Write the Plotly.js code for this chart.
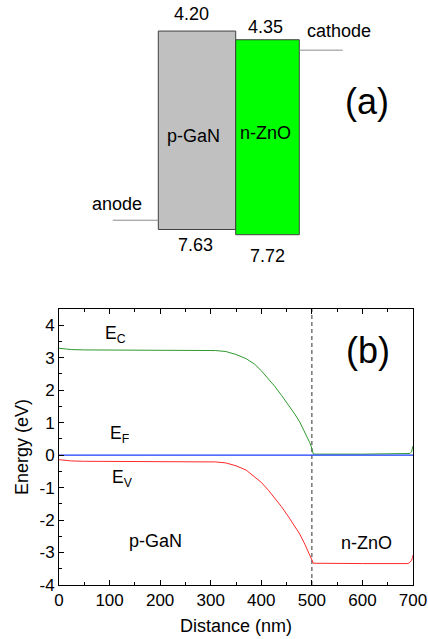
<!DOCTYPE html>
<html>
<head>
<meta charset="utf-8">
<script src="https://cdn.plot.ly/plotly-3.0.1.min.js"></script>
<style>html,body{margin:0;padding:0;background:#fff;}#chart{width:428px;height:639px;}</style>
</head>
<body>
<div id="chart"></div>
<script>
// ---------- Panel (a): band alignment ----------
const materials = ['p-GaN', 'n-ZnO'];
const bandTop = [4.20, 4.35];      // eV (below vacuum)
const bandBottom = [7.63, 7.72];   // eV
const electrodeNames = ['anode', 'cathode'];
const electrodeLevels = [7.47, 4.53];

// ---------- Panel (b): band diagram ----------
const ecDistance = [0, 10, 25, 50, 150, 250, 310, 330, 350, 370, 387, 400, 414, 427, 440, 453, 466, 476, 486, 491, 496, 499, 501, 503, 600, 690, 694, 697, 699, 700];
const ecEnergy   = [3.29, 3.27, 3.25, 3.24, 3.23, 3.23, 3.22, 3.19, 3.10, 2.97, 2.80, 2.60, 2.36, 2.11, 1.84, 1.56, 1.27, 1.02, 0.72, 0.56, 0.38, 0.25, 0.10, 0.03, 0.03, 0.03, 0.05, 0.10, 0.18, 0.28];
const evDistance = [0, 10, 25, 50, 150, 250, 310, 330, 350, 370, 387, 400, 414, 427, 440, 453, 466, 476, 486, 491, 496, 499, 501, 503, 600, 690, 694, 697, 699, 700];
const evEnergy   = [-0.14, -0.16, -0.18, -0.19, -0.20, -0.20, -0.21, -0.24, -0.33, -0.46, -0.66, -0.84, -1.08, -1.33, -1.59, -1.88, -2.17, -2.43, -2.74, -2.91, -3.09, -3.22, -3.30, -3.33, -3.34, -3.34, -3.30, -3.24, -3.16, -3.08];
const efDistance = [0, 700];
const efEnergy   = [0, 0];
const interfaceDistance = 500;
const yTickValues = [-4, -3, -2, -1, 0, 1, 2, 3, 4];
const xTickValues = [0, 100, 200, 300, 400, 500, 600, 700];

const FONT = 'Liberation Sans, Arial, sans-serif';

// layout geometry for panel (a)
const barWidths = [77.4, 63.6];
const barX = [-barWidths[0] / 2, barWidths[1] / 2];

const traces = [];
traces.push({
  type: 'bar', xaxis: 'x2', yaxis: 'y2',
  x: barX, width: barWidths,
  base: bandTop,
  y: bandBottom.map((b, i) => b - bandTop[i]),
  marker: {color: ['#c0c0c0', '#00ff00'], line: {color: '#404040', width: 1}},
  hoverinfo: 'skip', showlegend: false
});
// electrode lines
const anodeX = [barX[0] - barWidths[0] / 2 - 45.6, barX[0] - barWidths[0] / 2];
const cathodeX = [barX[1] + barWidths[1] / 2, barX[1] + barWidths[1] / 2 + 43.4];
traces.push({type: 'scatter', mode: 'lines', xaxis: 'x2', yaxis: 'y2', x: anodeX, y: [electrodeLevels[0], electrodeLevels[0]], line: {color: '#8c8c8c', width: 1}, showlegend: false, hoverinfo: 'skip'});
traces.push({type: 'scatter', mode: 'lines', xaxis: 'x2', yaxis: 'y2', x: cathodeX, y: [electrodeLevels[1], electrodeLevels[1]], line: {color: '#8c8c8c', width: 1}, showlegend: false, hoverinfo: 'skip'});

// panel (b)
traces.push({type: 'scatter', mode: 'lines', x: [interfaceDistance, interfaceDistance], y: [-4, 4.5], line: {color: '#606060', width: 1.3, dash: '4px,3px'}, showlegend: false, hoverinfo: 'skip'});
traces.push({type: 'scatter', mode: 'lines', x: ecDistance, y: ecEnergy, line: {color: '#2e9a2e', width: 1}, showlegend: false});
traces.push({type: 'scatter', mode: 'lines', x: evDistance, y: evEnergy, line: {color: '#ff2a2a', width: 1}, showlegend: false});
traces.push({type: 'scatter', mode: 'lines', x: efDistance, y: efEnergy, line: {color: '#1a3cff', width: 1.2}, showlegend: false});

const annA = (text, x, y, size, xanchor) => ({text, x, y, xref: 'x2', yref: 'y2', showarrow: false, xanchor: xanchor || 'center', yanchor: 'middle', font: {family: FONT, size: size || 18, color: '#000'}});
const annB = (text, x, y, size, xanchor) => ({text, x, y, xref: 'x', yref: 'y', showarrow: false, xanchor: xanchor || 'center', yanchor: 'middle', font: {family: FONT, size: size || 18, color: '#000'}});

const annotations = [
  annA(bandTop[0].toFixed(2), -44.7, 3.90),
  annA(bandTop[1].toFixed(2), 29.3, 4.13),
  annA(bandBottom[0].toFixed(2), -40.7, 7.90),
  annA(bandBottom[1].toFixed(2), 31.3, 8.09),
  annA(materials[0], -42.2, 6.02),
  annA(materials[1], 29.8, 5.97),
  annA(electrodeNames[1], 103.3, 4.20),
  annA(electrodeNames[0], -119, 7.19),
  annA('(a)', 131, 5.41, 36),
  annB('E<sub>C</sub>', 87, 3.72, 17.5, 'left'),
  annB('E<sub>F</sub>', 97, 0.62, 17.5, 'left'),
  annB('E<sub>V</sub>', 100, -0.72, 17.5, 'left'),
  annB(materials[0], 190, -2.65, 18),
  annB(materials[1], 609, -2.70, 18),
  annB('(b)', 611, 3.21, 36)
];

const layout = {
  width: 428, height: 639,
  margin: {l: 59, r: 15, t: 0, b: 54},
  paper_bgcolor: '#fff', plot_bgcolor: 'rgba(0,0,0,0)',
  font: {family: FONT, size: 17, color: '#000'},
  showlegend: false,
  xaxis: {
    domain: [0, 1], anchor: 'y', range: [0, 700],
    tickvals: xTickValues, ticktext: xTickValues.map(String),
    ticks: 'inside', ticklen: 5, tickwidth: 1, tickcolor: '#000',
    minor: {ticks: 'inside', dtick: 50, ticklen: 3, tickcolor: '#000', showgrid: false},
    showline: true, linecolor: '#000', linewidth: 1, mirror: 'ticks',
    showgrid: false, zeroline: false,
    tickfont: {family: FONT, size: 17, color: '#000'},
    title: {text: 'Distance (nm)', font: {family: FONT, size: 18, color: '#000'}, standoff: 9}
  },
  yaxis: {
    domain: [0, 0.4718], anchor: 'x', range: [-4, 4.5],
    tickvals: yTickValues, ticktext: yTickValues.map(String),
    ticks: 'inside', ticklen: 5, tickwidth: 1, tickcolor: '#000',
    minor: {ticks: 'inside', dtick: 0.5, ticklen: 3, tickcolor: '#000', showgrid: false},
    showline: true, linecolor: '#000', linewidth: 1, mirror: true,
    showgrid: false, zeroline: false,
    tickfont: {family: FONT, size: 17, color: '#000'},
    title: {text: 'Energy (eV)', font: {family: FONT, size: 18, color: '#000'}, standoff: 6}
  },
  xaxis2: {domain: [0, 1], anchor: 'y2', range: [-176.7, 177.3], visible: false, fixedrange: true},
  yaxis2: {domain: [0.5556, 1], anchor: 'x2', range: [8.157, 3.663], visible: false, fixedrange: true},
  bargap: 0,
  annotations: annotations
};

Plotly.newPlot('chart', traces, layout, {displayModeBar: false, staticPlot: true});
</script>
</body>
</html>
